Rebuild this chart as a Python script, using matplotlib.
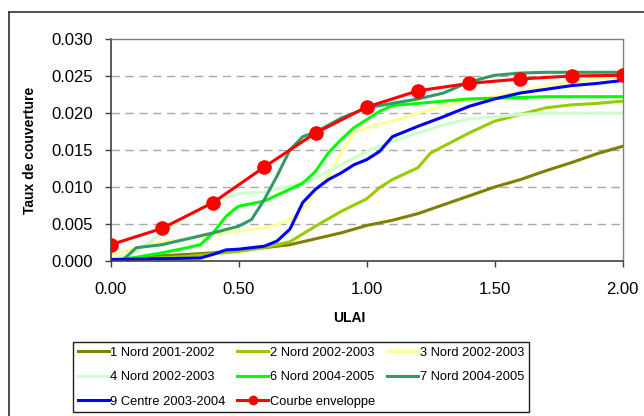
import numpy as np
import matplotlib
matplotlib.use("Agg")
import matplotlib.pyplot as plt
from matplotlib.lines import Line2D

plt.rcParams['font.family'] = ['Liberation Sans', 'DejaVu Sans']

# ── Data ─────────────────────────────────────────────────────────────────────
x_env = [0.0, 0.2, 0.4, 0.6, 0.8, 1.0, 1.2, 1.4, 1.6, 1.8, 2.0]
y_env = [0.0022, 0.0044, 0.0079, 0.0127, 0.0173, 0.0208, 0.0230, 0.0240,
         0.0246, 0.0250, 0.0251]

x_n1 = [0.0, 0.1, 0.2, 0.3, 0.4, 0.5, 0.6, 0.7, 0.8, 0.9, 1.0, 1.1, 1.2,
        1.3, 1.4, 1.5, 1.6, 1.7, 1.8, 1.9, 2.0]
y_n1 = [0.0002, 0.0004, 0.0007, 0.0009, 0.0011, 0.0014, 0.0018, 0.0022,
        0.0030, 0.0038, 0.0048, 0.0055, 0.0064, 0.0076, 0.0088, 0.0100,
        0.0110, 0.0122, 0.0133, 0.0145, 0.0155]

x_n2 = [0.0, 0.3, 0.5, 0.6, 0.65, 0.7, 0.8, 0.9, 1.0, 1.05, 1.1, 1.2, 1.25,
        1.3, 1.4, 1.5, 1.6, 1.7, 1.8, 1.9, 2.0]
y_n2 = [0.0001, 0.0006, 0.0013, 0.0018, 0.0022, 0.0026, 0.0047, 0.0067,
        0.0084, 0.0099, 0.0110, 0.0126, 0.0146, 0.0155, 0.0173, 0.0189,
        0.0198, 0.0207, 0.0211, 0.0213, 0.0216]

x_n3 = [0.0, 0.1, 0.2, 0.3, 0.4, 0.5, 0.6, 0.65, 0.7, 0.75, 0.8, 0.85, 0.9,
        0.95, 1.0, 1.1, 1.2, 1.3, 1.4, 1.5, 1.6, 1.7, 1.8, 1.9, 2.0]
y_n3 = [0.0007, 0.0018, 0.0026, 0.0029, 0.0036, 0.0040, 0.0045, 0.0049,
        0.0056, 0.0070, 0.0094, 0.0115, 0.0146, 0.0173, 0.0180, 0.0189,
        0.0200, 0.0209, 0.0218, 0.0222, 0.0229, 0.0237, 0.0242, 0.0246,
        0.0248]

x_n4 = [0.0, 0.1, 0.15, 0.2, 0.3, 0.4, 0.5, 0.6, 0.7, 0.8, 0.9, 1.0, 1.1,
        1.2, 1.3, 1.4, 1.5, 1.6, 1.7, 2.0]
y_n4 = [0.0001, 0.0013, 0.0025, 0.0038, 0.0060, 0.0081, 0.0091, 0.0093,
        0.0101, 0.0112, 0.0130, 0.0148, 0.0162, 0.0173, 0.0184, 0.0192,
        0.0195, 0.0198, 0.0200, 0.0200]

x_n6 = [0.0, 0.1, 0.2, 0.3, 0.35, 0.4, 0.45, 0.48, 0.5, 0.6, 0.7, 0.75, 0.8,
        0.85, 0.9, 0.95, 1.0, 1.05, 1.1, 1.2, 1.3, 1.4, 1.5, 1.6, 1.7, 2.0]
y_n6 = [0.0000, 0.0005, 0.0011, 0.0018, 0.0022, 0.0038, 0.0060, 0.0069,
        0.0074, 0.0081, 0.0097, 0.0105, 0.0121, 0.0146, 0.0164, 0.0180,
        0.0191, 0.0202, 0.0210, 0.0213, 0.0216, 0.0219, 0.0220, 0.0221,
        0.0222, 0.0222]

x_n7 = [0.0, 0.05, 0.1, 0.2, 0.3, 0.4, 0.5, 0.55, 0.6, 0.65, 0.7, 0.75, 0.8,
        0.9, 1.0, 1.1, 1.2, 1.3, 1.4, 1.5, 1.6, 1.7, 2.0]
y_n7 = [0.0000, 0.0002, 0.0018, 0.0022, 0.0030, 0.0038, 0.0047, 0.0056,
        0.0083, 0.0115, 0.0150, 0.0168, 0.0174, 0.0193, 0.0207, 0.0213,
        0.0219, 0.0227, 0.0242, 0.0251, 0.0254, 0.0255, 0.0255]

x_c9 = [0.0, 0.35, 0.4, 0.45, 0.5, 0.6, 0.65, 0.7, 0.75, 0.8, 0.85, 0.9,
        0.95, 1.0, 1.05, 1.1, 1.2, 1.3, 1.4, 1.5, 1.6, 1.7, 1.8, 1.9, 2.0]
y_c9 = [0.0002, 0.0004, 0.0009, 0.0015, 0.0016, 0.0020, 0.0027, 0.0043,
        0.0079, 0.0097, 0.0110, 0.0119, 0.0130, 0.0137, 0.0148, 0.0168,
        0.0182, 0.0195, 0.0209, 0.0219, 0.0227, 0.0232, 0.0237, 0.0240,
        0.0244]

labels = ['1 Nord 2001-2002', '2 Nord 2002-2003', '3 Nord 2002-2003',
          '4 Nord 2002-2003', '6 Nord 2004-2005', '7 Nord 2004-2005',
          '9 Centre 2003-2004', 'Courbe enveloppe']
colors = ['#808000', '#99CC00', '#FFFF99', '#CCFFCC', '#00FF00', '#339966',
          '#0000FF', '#FF0000']

series = [(x_n1, y_n1), (x_n2, y_n2), (x_n3, y_n3), (x_n4, y_n4),
          (x_n6, y_n6), (x_n7, y_n7), (x_c9, y_c9)]

# ── Figure ───────────────────────────────────────────────────────────────────
W, H = 644, 416
fig = plt.figure(figsize=(W / 100, H / 100), dpi=100)
ax = fig.add_axes([110.7 / W, 1 - 261 / H, 512 / W, 222 / H])

# outer chart frame (only top/left visible in the crop)
fig.add_artist(Line2D([9 / W, 9 / W], [0, 1 - 12 / H], color='#303030',
                      lw=1.2, transform=fig.transFigure))
fig.add_artist(Line2D([9 / W, 1], [1 - 12 / H, 1 - 12 / H], color='#303030',
                      lw=1.2, transform=fig.transFigure))

for yv in [0.005, 0.010, 0.015, 0.020, 0.025]:
    ax.axhline(yv, color='#A8A8A8', lw=1.0, ls=(0, (6, 4)), zorder=1)

handles = []
for (xs, ys), c, lab in zip(series, colors[:-1], labels[:-1]):
    h, = ax.plot(xs, ys, color=c, lw=2.2, label=lab, zorder=2)
    handles.append(h)
h, = ax.plot(x_env, y_env, color=colors[-1], lw=2.2, marker='o',
             markersize=9.5, label=labels[-1], zorder=3)
handles.append(h)

ax.set_xlim(0, 2.0)
ax.set_ylim(0, 0.030)
ax.set_xticks([0, 0.5, 1.0, 1.5, 2.0])
ax.set_xticklabels(['0.00', '0.50', '1.00', '1.50', '2.00'])
ax.set_yticks([0, 0.005, 0.010, 0.015, 0.020, 0.025, 0.030])
ax.set_yticklabels(['0.000', '0.005', '0.010', '0.015', '0.020', '0.025',
                    '0.030'])
ax.tick_params(axis='both', direction='out', length=4, width=1,
               labelsize=12, color='#404040')
ax.tick_params(axis='y', pad=9)
ax.tick_params(axis='x', pad=11)

for s in ['left', 'bottom']:
    ax.spines[s].set_color('#404040')
    ax.spines[s].set_linewidth(1.2)
for s in ['top', 'right']:
    ax.spines[s].set_color('#808080')
    ax.spines[s].set_linewidth(1.0)

fig.text(30 / W, 1 - 150 / H, 'Taux de couverture', rotation=90,
         ha='center', va='center', fontsize=10, fontweight='bold')
fig.text(349 / W, 1 - 318 / H, 'ULAI', ha='center', va='center',
         fontsize=10, fontweight='bold')

# legend is filled column by column, so reorder to read row by row
order = [0, 3, 6, 1, 4, 7, 2, 5]
leg = fig.legend(handles=[handles[i] for i in order], loc='upper left',
                 bbox_to_anchor=(73 / W, 1 - 342 / H), ncol=3,
                 fontsize=9.3, frameon=True, fancybox=False,
                 edgecolor='#202020', framealpha=1, borderpad=0.35,
                 handlelength=2.4, handletextpad=0.15, columnspacing=0.9,
                 labelspacing=0.97, borderaxespad=0)
leg.get_frame().set_linewidth(1.0)
leg.legend_handles[order.index(7)].set_markersize(6)

fig.savefig('out.png', dpi=100)
